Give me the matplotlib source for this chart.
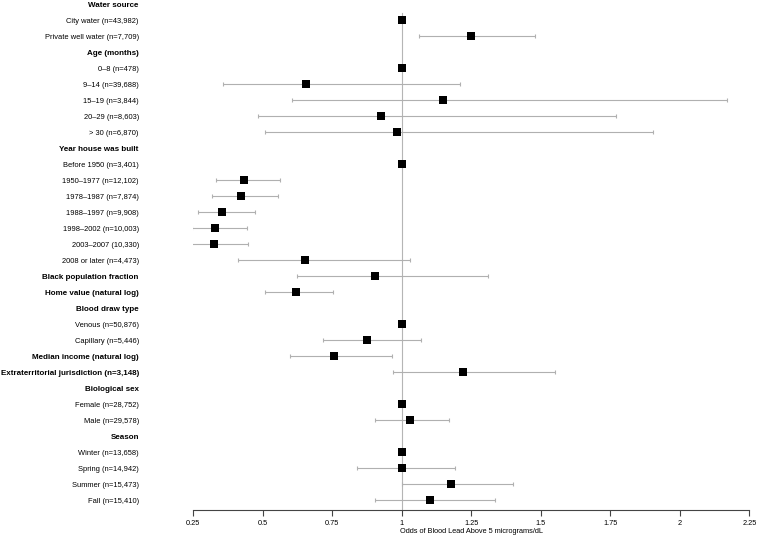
import numpy as np
import matplotlib
matplotlib.use("Agg")
import matplotlib.pyplot as plt
import matplotlib.transforms as mtransforms

plt.rcParams['font.family'] = ['Liberation Sans', 'DejaVu Sans']

labels = [
    "Water source", "City water (n=43,982)", "Private well water (n=7,709)",
    "Age (months)", "0–8 (n=478)", "9–14 (n=39,688)", "15–19 (n=3,844)",
    "20–29 (n=8,603)", "> 30 (n=6,870)",
    "Year house was built", "Before 1950 (n=3,401)", "1950–1977 (n=12,102)",
    "1978–1987 (n=7,874)", "1988–1997 (n=9,908)", "1998–2002 (n=10,003)",
    "2003–2007 (10,330)", "2008 or later (n=4,473)",
    "Black population fraction", "Home value (natural log)",
    "Blood draw type", "Venous (n=50,876)", "Capillary (n=5,446)",
    "Median income (natural log)", "Extraterritorial jurisdiction (n=3,148)",
    "Biological sex", "Female (n=28,752)", "Male (n=29,578)",
    "Season", "Winter (n=13,658)", "Spring (n=14,942)", "Summer (n=15,473)",
    "Fall (n=15,410)",
]
bold_rows = [
    "Water source", "Age (months)", "Year house was built",
    "Black population fraction", "Home value (natural log)", "Blood draw type",
    "Median income (natural log)", "Extraterritorial jurisdiction (n=3,148)",
    "Biological sex", "Season",
]
nan = np.nan
odds = [nan, 1.0, 1.25,
        nan, 1.0, 0.658, 1.150, 0.927, 0.985,
        nan, 1.0, 0.433, 0.421, 0.355, 0.329, 0.326, 0.651,
        0.905, 0.620,
        nan, 1.0, 0.876,
        0.758, 1.221,
        nan, 1.0, 1.030,
        nan, 1.0, 1.0, 1.179, 1.103]
lower = [nan, nan, 1.061,
         nan, nan, 0.357, 0.607, 0.485, 0.510,
         nan, nan, 0.334, 0.319, 0.269, 0.245, 0.240, 0.413,
         0.625, 0.510,
         nan, nan, 0.719,
         0.597, 0.968,
         nan, nan, 0.903,
         nan, nan, 0.841, 1.000, 0.906]
upper = [nan, nan, 1.479,
         nan, nan, 1.210, 2.171, 1.771, 1.902,
         nan, nan, 0.564, 0.557, 0.473, 0.443, 0.449, 1.031,
         1.310, 0.753,
         nan, nan, 1.071,
         0.964, 1.551,
         nan, nan, 1.169,
         nan, nan, 1.192, 1.400, 1.336]
xticks = [0.25, 0.5, 0.75, 1.0, 1.25, 1.5, 1.75, 2.0, 2.25]
xticklabels = ["0.25", "0.5", "0.75", "1", "1.25", "1.5", "1.75", "2", "2.25"]

odds = np.array(odds); lower = np.array(lower); upper = np.array(upper)
ypos = np.arange(len(labels))

W, H = 757, 536
fig = plt.figure(figsize=(W / 100, H / 100), dpi=100)
ax = fig.add_axes([193 / W, (H - 510) / H, 556.3 / W, 510 / H])
ax.set_xlim(0.25, 2.25)
ax.set_ylim((510 - 4.3) / 16, -4.3 / 16)

ax.axvline(1.0, ymin=0, ymax=(510 - 12.7) / 510, color='#b5b5b5', lw=0.8, zorder=1)

has_ci = ~np.isnan(lower)
ax.errorbar(odds[has_ci], ypos[has_ci],
            xerr=[odds[has_ci] - lower[has_ci], upper[has_ci] - odds[has_ci]],
            fmt='none', ecolor='#b0b0b0', elinewidth=0.8, capsize=1.4,
            capthick=0.8, zorder=2)
ax.scatter(odds, ypos, marker='s', s=26, color='black', zorder=3, linewidths=0)

for s in ['top', 'right', 'left']:
    ax.spines[s].set_visible(False)
ax.spines['bottom'].set_bounds(0.25, 2.25)
ax.spines['bottom'].set_color('#444444')
ax.spines['bottom'].set_linewidth(0.8)

ax.set_xticks(xticks)
ax.set_xticklabels(xticklabels, fontsize=5.3)
ax.tick_params(axis='x', length=4, width=0.8, color='#444444', pad=3.5)
ax.set_xlabel("Odds of Blood Lead Above 5 micrograms/dL", fontsize=5.3, labelpad=0.5)

ax.set_yticks(ypos)
ax.set_yticklabels(labels)
ax.tick_params(axis='y', length=0, pad=39)
for t, lab in zip(ax.get_yticklabels(), labels):
    if lab in bold_rows:
        t.set_fontweight('bold')
        t.set_fontsize(5.8)
    else:
        t.set_fontsize(5.4)

fig.savefig("out.png", dpi=100)
